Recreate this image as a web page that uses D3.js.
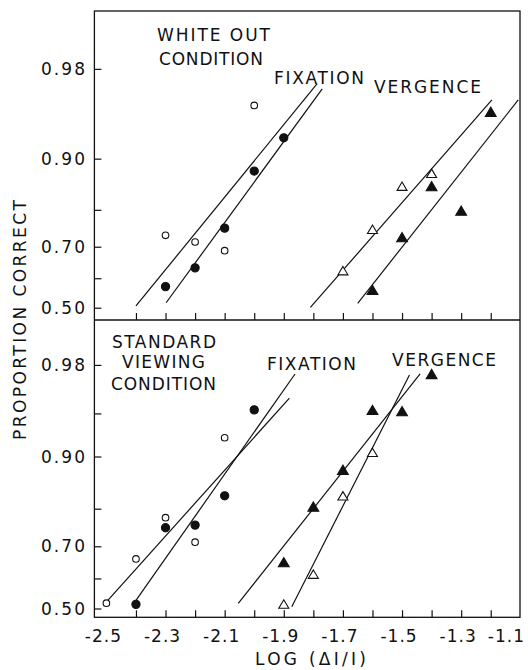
<!DOCTYPE html>
<html><head><meta charset="utf-8">
<script src="https://cdn.jsdelivr.net/npm/d3@7"></script>
<style>
body{margin:0;background:#fff}
svg{display:block}
text{font-family:"DejaVu Sans",sans-serif;font-size:17px;fill:#111}
</style>
</head><body>
<svg id="c" width="528" height="670"></svg>
<script>
// ---------- axis ticks / labels ----------
const xTickLabels = [-2.5, -2.3, -2.1, -1.9, -1.7, -1.5, -1.3, -1.1];
const xTickMarks  = [-2.4, -2.3, -2.2, -2.1, -2.0, -1.9, -1.8, -1.7, -1.6, -1.5, -1.4, -1.3, -1.2];
const yTickLabels = [0.50, 0.70, 0.90, 0.98];
const yTickMarksTop    = [0.50, 0.60, 0.70, 0.80, 0.90, 0.98];
const yTickMarksBottom = [0.50, 0.60, 0.70, 0.80, 0.90, 0.95, 0.98];

// ---------- top panel: white out condition ----------
const topFixOpenX   = [-2.3, -2.2, -2.1, -2.0];
const topFixOpenP   = [0.733, 0.714, 0.688, 0.959];
const topFixFilledX = [-2.3, -2.2, -2.1, -2.0, -1.9];
const topFixFilledP = [0.572, 0.634, 0.753, 0.880, 0.928];
const topVergOpenX   = [-1.7, -1.6, -1.5, -1.4];
const topVergOpenP   = [0.625, 0.750, 0.852, 0.876];
const topVergFilledX = [-1.6, -1.5, -1.4, -1.3, -1.2];
const topVergFilledP = [0.561, 0.728, 0.852, 0.798, 0.954];
// fitted lines: [x1, p1, x2, p2]
const topFixOpenFit    = [-2.400, 0.506, -1.787, 0.973];
const topFixFilledFit  = [-2.298, 0.517, -1.770, 0.970];
const topVergOpenFit   = [-1.810, 0.501, -1.196, 0.963];
const topVergFilledFit = [-1.650, 0.515, -1.107, 0.963];

// ---------- bottom panel: standard viewing condition ----------
const botFixOpenX   = [-2.5, -2.4, -2.3, -2.2, -2.1];
const botFixOpenP   = [0.518, 0.662, 0.778, 0.712, 0.925];
const botFixFilledX = [-2.4, -2.3, -2.2, -2.1, -2.0];
const botFixFilledP = [0.514, 0.752, 0.759, 0.829, 0.953];
const botVergOpenX   = [-1.9, -1.8, -1.7, -1.6];
const botVergOpenP   = [0.515, 0.614, 0.829, 0.906];
const botVergFilledX = [-1.9, -1.8, -1.7, -1.6, -1.5, -1.4];
const botVergFilledP = [0.652, 0.805, 0.879, 0.953, 0.952, 0.976];
const botFixOpenFit    = [-2.499, 0.523, -1.881, 0.962];
const botFixFilledFit  = [-2.403, 0.523, -1.862, 0.976];
const botVergOpenFit   = [-1.873, 0.506, -1.475, 0.9755];
const botVergFilledFit = [-2.054, 0.5175, -1.439, 0.976];

// ---------- probit (inverse normal CDF, Acklam) ----------
function probit(p){
  const a=[-3.969683028665376e+01,2.209460984245205e+02,-2.759285104469687e+02,1.383577518672690e+02,-3.066479806614716e+01,2.506628277459239e+00];
  const b=[-5.447609879822406e+01,1.615858368580409e+02,-1.556989798598866e+02,6.680131188771972e+01,-1.328068155288572e+01];
  const c=[-7.784894002430293e-03,-3.223964580411365e-01,-2.400758277161838e+00,-2.549732539343734e+00,4.374664141464968e+00,2.938163982698783e+00];
  const d=[7.784695709041462e-03,3.224671290700398e-01,2.445134137142996e+00,3.754408661907416e+00];
  const pl=0.02425; let q,r;
  if(p<pl){q=Math.sqrt(-2*Math.log(p));return (((((c[0]*q+c[1])*q+c[2])*q+c[3])*q+c[4])*q+c[5])/((((d[0]*q+d[1])*q+d[2])*q+d[3])*q+1);}
  if(p<=1-pl){q=p-0.5;r=q*q;return (((((a[0]*r+a[1])*r+a[2])*r+a[3])*r+a[4])*r+a[5])*q/(((((b[0]*r+b[1])*r+b[2])*r+b[3])*r+b[4])*r+1);}
  q=Math.sqrt(-2*Math.log(1-p));return -(((((c[0]*q+c[1])*q+c[2])*q+c[3])*q+c[4])*q+c[5])/((((d[0]*q+d[1])*q+d[2])*q+d[3])*q+1);
}

// ---------- layout ----------
const frameL = 94.4, frameR = 520, frameT = 11, divY = 320, frameB = 617.3;
const svg = d3.select("#c");
const x = d3.scaleLinear().domain([-2.5, -1.1]).range([106.4, 520.3]);
const zTop = d3.scaleLinear().domain([0, probit(0.98)]).range([307.7, 307.7 - 116.3*probit(0.98)]);
const zBot = d3.scaleLinear().domain([0, probit(0.98)]).range([608.5, 608.5 - 118.6*probit(0.98)]);

function drawPanel(zs, yMarks, bottomY, sets, fits){
  const y = p => zs(probit(p));
  const ya = d3.axisLeft(zs).tickValues(yMarks.map(probit)).tickSize(-7).tickFormat("");
  const gy = svg.append("g").attr("transform",`translate(${frameL},0)`).call(ya);
  gy.select(".domain").remove();
  gy.selectAll("line").attr("stroke","#111").attr("stroke-width",1.2);
  svg.append("g").selectAll("text").data(yTickLabels).join("text")
    .attr("x", 41).attr("y", d => y(d)).attr("dy","0.36em")
    .attr("textLength", 44).attr("lengthAdjust","spacing")
    .text(d => d.toFixed(2));
  const xa = d3.axisBottom(x).tickValues(xTickMarks).tickSize(-7).tickFormat("");
  const gx = svg.append("g").attr("transform",`translate(0,${bottomY})`).call(xa);
  gx.select(".domain").remove();
  gx.selectAll("line").attr("stroke","#111").attr("stroke-width",1.2);
  svg.append("g").selectAll("line").data(fits).join("line")
    .attr("x1", f => x(f[0])).attr("y1", f => y(f[1]))
    .attr("x2", f => x(f[2])).attr("y2", f => y(f[3]))
    .attr("stroke","#111").attr("stroke-width",1.2);
  sets.forEach(s => {
    const pts = s.xs.map((v,i) => [v, s.ps[i]]);
    const g = svg.append("g");
    if (s.shape === "circle") {
      g.selectAll("circle").data(pts).join("circle")
        .attr("cx", d => x(d[0])).attr("cy", d => y(d[1]))
        .attr("r", s.filled ? 4.1 : 3.3)
        .attr("fill", s.filled ? "#111" : "#fff")
        .attr("stroke","#111").attr("stroke-width", 1.1);
    } else {
      const w = s.filled ? 5.4 : 5.0, h = s.filled ? 9.2 : 8.4;
      g.selectAll("path").data(pts).join("path")
        .attr("d", d => {
          const cx = x(d[0]), cy = y(d[1]);
          return `M${cx},${cy-h/2}L${cx+w},${cy+h/2}L${cx-w},${cy+h/2}Z`;
        })
        .attr("fill", s.filled ? "#111" : "#fff")
        .attr("stroke","#111").attr("stroke-width",1.1).attr("stroke-linejoin","miter");
    }
  });
}

drawPanel(zTop, yTickMarksTop, divY, [
  {xs: topFixOpenX, ps: topFixOpenP, shape:"circle", filled:false},
  {xs: topFixFilledX, ps: topFixFilledP, shape:"circle", filled:true},
  {xs: topVergOpenX, ps: topVergOpenP, shape:"tri", filled:false},
  {xs: topVergFilledX, ps: topVergFilledP, shape:"tri", filled:true}
], [topFixOpenFit, topFixFilledFit, topVergOpenFit, topVergFilledFit]);

drawPanel(zBot, yTickMarksBottom, frameB, [
  {xs: botFixOpenX, ps: botFixOpenP, shape:"circle", filled:false},
  {xs: botFixFilledX, ps: botFixFilledP, shape:"circle", filled:true},
  {xs: botVergOpenX, ps: botVergOpenP, shape:"tri", filled:false},
  {xs: botVergFilledX, ps: botVergFilledP, shape:"tri", filled:true}
], [botFixOpenFit, botFixFilledFit, botVergOpenFit, botVergFilledFit]);

// frame
svg.append("rect").attr("x",frameL).attr("y",frameT)
  .attr("width",frameR-frameL).attr("height",frameB-frameT)
  .attr("fill","none").attr("stroke","#111").attr("stroke-width",1.3);
svg.append("line").attr("x1",frameL).attr("x2",frameR).attr("y1",divY).attr("y2",divY)
  .attr("stroke","#111").attr("stroke-width",1.3);

// x tick labels
svg.append("g").selectAll("text").data(xTickLabels).join("text")
  .attr("x", d => x(d) - 3).attr("y", 641.5)
  .attr("text-anchor","middle").attr("letter-spacing","1px")
  .text(d => d.toFixed(1))
  .each(function(){
    const bb = this.getBBox();
    if (bb.x + bb.width > 525) d3.select(this).attr("x", +d3.select(this).attr("x") - (bb.x + bb.width - 525));
  });

// panel labels [text, left, baseline, width]
const labels = [
  ["WHITE OUT", 157, 41, 113],
  ["CONDITION", 159, 65, 104],
  ["FIXATION", 274, 84, 90],
  ["VERGENCE", 374, 92.5, 107],
  ["STANDARD", 112, 347.5, 104],
  ["VIEWING", 122, 367.5, 83],
  ["CONDITION", 111, 390, 105],
  ["FIXATION", 267, 370, 89],
  ["VERGENCE", 392, 365.5, 104]
];
svg.append("g").selectAll("text").data(labels).join("text")
  .attr("x", d => d[1]).attr("y", d => d[2])
  .attr("textLength", d => d[3]).attr("lengthAdjust","spacing")
  .text(d => d[0]);

// axis titles
svg.append("text").attr("transform","translate(26,320) rotate(-90)")
  .attr("text-anchor","middle").attr("textLength",240).attr("lengthAdjust","spacing")
  .text("PROPORTION CORRECT");
svg.append("text").attr("x",255).attr("y",665)
  .attr("font-size","16.5px")
  .attr("textLength",111).attr("lengthAdjust","spacing")
  .text("LOG (ΔI/I)");
</script>
</body></html>
